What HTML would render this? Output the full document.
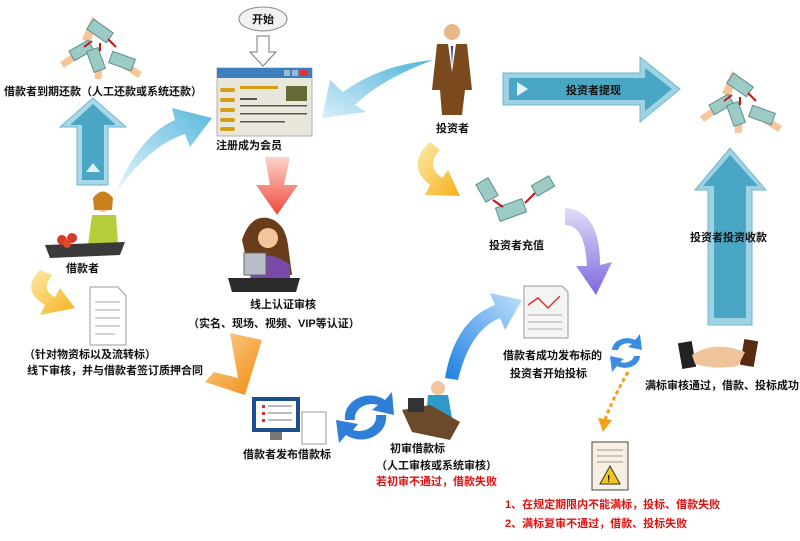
<!DOCTYPE html>
<html><head><meta charset="utf-8"><style>
body{margin:0;background:#fff;width:800px;height:541px;overflow:hidden}
svg{display:block}
text{font-family:"Liberation Sans","Noto Sans CJK SC",sans-serif;font-weight:bold;font-size:11px;fill:#111}
.r{fill:#e01010}
</style></head><body>
<svg width="800" height="541" viewBox="0 0 800 541">
<defs>
<linearGradient id="lb" x1="0" y1="1" x2="1" y2="0"><stop offset="0" stop-color="#e6f5fb"/><stop offset="1" stop-color="#58b8de"/></linearGradient>
<linearGradient id="lb2" x1="1" y1="0" x2="0" y2="1"><stop offset="0" stop-color="#4fb3db"/><stop offset="1" stop-color="#d8eef8"/></linearGradient>
<linearGradient id="rd" x1="0" y1="0" x2="0" y2="1"><stop offset="0" stop-color="#fbd3cc"/><stop offset="1" stop-color="#f0483a"/></linearGradient>
<linearGradient id="ye" x1="0" y1="0" x2="1" y2="1"><stop offset="0" stop-color="#fde9a9"/><stop offset="1" stop-color="#f4b21b"/></linearGradient>
<linearGradient id="pu" x1="0" y1="0" x2="0" y2="1"><stop offset="0" stop-color="#e2dcf8"/><stop offset="1" stop-color="#7d68de"/></linearGradient>
<linearGradient id="bb" x1="1" y1="0" x2="0" y2="1"><stop offset="0" stop-color="#bfe0fb"/><stop offset="1" stop-color="#1f7fe0"/></linearGradient>
<linearGradient id="or" x1="0" y1="0" x2="1" y2="1"><stop offset="0" stop-color="#fbd49b"/><stop offset="1" stop-color="#f08a0c"/></linearGradient>
<g id="money">
<path d="M0,22 L10,0 L16,4 L8,26Z" fill="#f6c59a"/>
<rect x="6" y="8" width="24" height="12" fill="#9ccbc6" stroke="#5d8f8b" transform="rotate(35 18 14)"/>
<path d="M-20,48 L-5,38" stroke="#f6c59a" stroke-width="7"/>
<rect x="-12" y="28" width="22" height="11" fill="#9ccbc6" stroke="#5d8f8b" transform="rotate(-30 -1 33)"/>
<path d="M16,62 L18,42" stroke="#f6c59a" stroke-width="7"/>
<rect x="8" y="32" width="12" height="22" fill="#9ccbc6" stroke="#5d8f8b" transform="rotate(-20 14 43)"/>
<path d="M58,58 L42,48" stroke="#f6c59a" stroke-width="7"/>
<rect x="28" y="38" width="24" height="12" fill="#9ccbc6" stroke="#5d8f8b" transform="rotate(20 40 44)"/>
<path d="M10,24 L2,30 M18,26 L18,34 M26,22 L34,30" stroke="#c01818" stroke-width="2"/>
</g>
</defs>

<use href="#money" x="82" y="17"/>
<text x="4" y="95">借款者到期还款（人工还款或系统还款）</text>
<path d="M60,127 L93,98 L126,127 L108,127 L108,185 L77,185 L77,127Z" fill="#a9d8e6" stroke="#6fb6cc"/>
<path d="M70,125 L93,104 L116,125 L104,125 L104,180 L82,180 L82,125Z" fill="#4aa6c4"/>
<path d="M86,172 L93,163 L100,172Z" fill="#dff2f5"/>
<path d="M116,192 Q140,135 175,120 L172,108 L212,118 L190,147 L185,134 Q150,145 116,192Z" fill="url(#lb)"/>
<ellipse cx="263" cy="19" rx="24" ry="12" fill="#f2f2f2" stroke="#888"/>
<text x="252" y="23">开始</text>
<path d="M257,36 L269,36 L269,52 L276,52 L263,66 L250,52 L257,52Z" fill="#fff" stroke="#777"/>
<rect x="217" y="68" width="95" height="68" fill="#e9e6dc" stroke="#b0b0b0"/>
<rect x="217" y="68" width="95" height="10" fill="#3d7ebf"/>
<rect x="284" y="70" width="6" height="6" fill="#9bc"/><rect x="292" y="70" width="6" height="6" fill="#9bc"/><rect x="300" y="70" width="7" height="6" fill="#d33"/>
<g fill="#d69d16"><rect x="220" y="88" width="15" height="4" rx="2"/><rect x="220" y="98" width="15" height="4" rx="2"/><rect x="220" y="108" width="15" height="4" rx="2"/><rect x="220" y="118" width="15" height="4" rx="2"/><rect x="220" y="127" width="15" height="4" rx="2"/><rect x="240" y="86" width="38" height="3"/></g>
<rect x="286" y="86" width="21" height="15" fill="#646936"/>
<g fill="#555"><rect x="240" y="98" width="17" height="2"/><rect x="240" y="105" width="67" height="1.5"/><rect x="240" y="113" width="67" height="1.5"/><rect x="240" y="121" width="45" height="1.5"/></g>
<text x="216" y="149">注册成为会员</text>
<path d="M265,157 L290,157 L284,185 L298,185 L277,215 L256,185 L270,185Z" fill="url(#rd)"/>
<path d="M242,240 Q250,215 268,218 Q285,222 288,245 L292,275 L250,275Z" fill="#6a3d1a"/>
<circle cx="268" cy="238" r="10" fill="#f3c59a"/>
<path d="M252,262 Q268,248 290,265 L290,280 L250,280Z" fill="#7a4aa8"/>
<rect x="244" y="253" width="22" height="22" fill="#b8bec6" stroke="#666"/>
<path d="M228,278 L300,278 L296,292 L232,292Z" fill="#2a2a2a"/>
<text x="250" y="308">线上认证审核</text>
<text x="188" y="327">（实名、现场、视频、VIP等认证）</text>
<circle cx="452" cy="32" r="8" fill="#e8b888"/>
<path d="M437,44 L467,44 L472,90 L465,90 L462,115 L442,115 L440,90 L432,90Z" fill="#7a4a1e"/>
<path d="M448,44 L456,44 L452,72Z" fill="#fff"/><path d="M451,46 L453,46 L452,66Z" fill="#2a2a8a"/>
<text x="436" y="132">投资者</text>
<path d="M433,60 Q380,80 355,105 L366,112 L322,118 L330,80 L343,92 Q380,65 433,60Z" fill="url(#lb2)"/>
<path d="M503,73 L640,73 L640,57 L680,89 L640,122 L640,105 L503,105Z" fill="#9fd3e3" stroke="#6fb6cc"/>
<path d="M509,78 L645,78 L645,68 L672,89 L645,111 L645,100 L509,100Z" fill="#49a7c5"/>
<path d="M517,82 L528,89 L517,96Z" fill="#e2f4f7"/>
<text x="566" y="94">投资者提现</text>
<use href="#money" x="722" y="71"/>
<path d="M695,190 L730,148 L766,190 L752,190 L752,325 L708,325 L708,190Z" fill="#9fd3e3" stroke="#6fb6cc"/>
<path d="M703,186 L730,155 L758,186 L746,186 L746,318 L714,318 L714,186Z" fill="#49a7c5"/>
<text x="690" y="241">投资者投资收款</text>
<path d="M430,142 Q405,165 430,185 L425,195 L460,196 L448,170 L442,178 Q425,165 440,150Z" fill="url(#ye)"/>
<g transform="translate(475,175)">
<rect x="22" y="28" width="28" height="14" fill="#9ccbc6" stroke="#5d8f8b" transform="rotate(-20 36 35)"/>
<rect x="5" y="5" width="14" height="20" fill="#9ccbc6" stroke="#5d8f8b" transform="rotate(-30 12 15)"/>
<rect x="58" y="5" width="20" height="12" fill="#9ccbc6" stroke="#5d8f8b" transform="rotate(-30 68 11)"/>
<path d="M18,25 L28,32 M60,18 L50,28" stroke="#c01818" stroke-width="2"/>
</g>
<text x="489" y="249">投资者充值</text>
<path d="M565,208 Q600,210 600,265 L612,262 L596,295 L576,266 L587,266 Q585,225 565,225Z" fill="url(#pu)"/>
<circle cx="103" cy="204" r="8" fill="#f3c59a"/>
<path d="M93,198 Q103,185 113,198 L112,210 L94,210Z" fill="#c9821e"/>
<path d="M92,215 L116,215 L118,245 L88,245Z" fill="#b5cf3c"/>
<path d="M45,245 L125,242 L120,255 L50,258Z" fill="#3a3a3a"/>
<circle cx="62" cy="240" r="5" fill="#d83a2a"/><circle cx="72" cy="238" r="5" fill="#d83a2a"/><circle cx="67" cy="244" r="4" fill="#e24a2a"/>
<text x="66" y="272">借款者</text>
<path d="M40,270 Q20,290 45,305 L40,315 L75,308 L60,288 L55,297 Q40,290 52,275Z" fill="url(#ye)"/>
<path d="M90,287 L118,287 L126,296 L126,345 L90,345Z" fill="#fff" stroke="#999"/>
<g stroke="#aaa"><line x1="95" y1="302" x2="120" y2="302"/><line x1="95" y1="310" x2="120" y2="310"/><line x1="95" y1="318" x2="120" y2="318"/><line x1="95" y1="326" x2="120" y2="326"/><line x1="95" y1="334" x2="115" y2="334"/></g>
<text x="24" y="358">（针对物资标以及流转标）</text>
<text x="27" y="374">线下审核，并与借款者签订质押合同</text>
<path d="M230,333 L262,340 L245,395 L205,382 L214,372 L238,378Z" fill="url(#or)"/>
<rect x="252" y="397" width="48" height="35" fill="#1d4f8c"/><rect x="256" y="401" width="40" height="27" fill="#fff"/>
<g fill="#c33"><rect x="262" y="405" width="3" height="3"/><rect x="262" y="412" width="3" height="3"/><rect x="262" y="419" width="3" height="3"/></g>
<g stroke="#777"><line x1="268" y1="406" x2="292" y2="406"/><line x1="268" y1="413" x2="292" y2="413"/><line x1="268" y1="420" x2="292" y2="420"/></g>
<rect x="270" y="432" width="12" height="8" fill="#777"/>
<rect x="302" y="412" width="24" height="32" fill="#fff" stroke="#999"/>
<text x="243" y="458">借款者发布借款标</text>
<path d="M345,420 A25,22 0 0 1 385,400 L392,392 L394,415 L372,410 L378,405 A17,14 0 0 0 355,420Z" fill="#2f7fd8"/>
<path d="M386,415 A25,22 0 0 1 346,435 L339,443 L336,420 L358,424 L353,430 A17,14 0 0 0 376,415Z" fill="#2f7fd8"/>
<circle cx="438" cy="388" r="7" fill="#f3c59a"/>
<path d="M428,395 L448,395 L452,418 L426,418Z" fill="#2d9ac8"/>
<path d="M402,410 L430,405 L460,422 L450,440 L412,432Z" fill="#6a4a2a"/>
<rect x="408" y="398" width="16" height="14" fill="#333"/>
<text x="390" y="452">初审借款标</text>
<text x="376" y="469">（人工审核或系统审核）</text>
<text x="376" y="485" class="r">若初审不通过，借款失败</text>
<path d="M445,378 Q455,320 495,305 L490,293 L522,300 L505,330 L500,318 Q470,330 458,380Z" fill="url(#bb)"/>
<path d="M524,286 L562,286 L568,292 L568,338 L524,338Z" fill="#f4f4f4" stroke="#999"/>
<path d="M528,305 L538,298 L548,308 L560,296" stroke="#d33" fill="none" stroke-width="1.5"/>
<g stroke="#aaa"><line x1="528" y1="315" x2="562" y2="315"/><line x1="528" y1="322" x2="562" y2="322"/><line x1="528" y1="329" x2="562" y2="329"/></g>
<text x="503" y="359">借款者成功发布标的</text>
<text x="510" y="377">投资者开始投标</text>
<path d="M612,350 A15,12 0 0 1 635,340 L640,334 L642,350 L628,347 L632,344 A10,8 0 0 0 618,350Z" fill="#3a8de0"/>
<path d="M640,356 A15,12 0 0 1 617,366 L612,372 L610,356 L624,359 L620,362 A10,8 0 0 0 634,356Z" fill="#3a8de0"/>
<rect x="680" y="342" width="14" height="26" fill="#222" transform="rotate(-10 687 355)"/>
<rect x="742" y="340" width="14" height="26" fill="#5a2a10" transform="rotate(10 749 353)"/>
<path d="M692,355 Q715,340 745,352 L738,366 Q715,370 695,364Z" fill="#f0c49a"/>
<text x="645" y="389">满标审核通过，借款、投标成功</text>
<path d="M628,372 Q612,400 605,420" stroke="#f3a01a" stroke-width="3" stroke-dasharray="4 3" fill="none"/>
<path d="M598,418 L612,420 L603,432Z" fill="#f3a01a"/>
<rect x="592" y="442" width="36" height="48" fill="#f7f0e2" stroke="#444"/>
<g stroke="#999"><line x1="597" y1="450" x2="623" y2="450"/><line x1="597" y1="456" x2="623" y2="456"/><line x1="597" y1="462" x2="623" y2="462"/></g>
<path d="M610,466 L620,484 L600,484Z" fill="#f4c51a" stroke="#333"/>
<text x="607" y="482" style="font-size:10px">!</text>
<text x="505" y="508" class="r">1、在规定期限内不能满标，投标、借款失败</text>
<text x="505" y="527" class="r">2、满标复审不通过，借款、投标失败</text>
</svg>
</body></html>
